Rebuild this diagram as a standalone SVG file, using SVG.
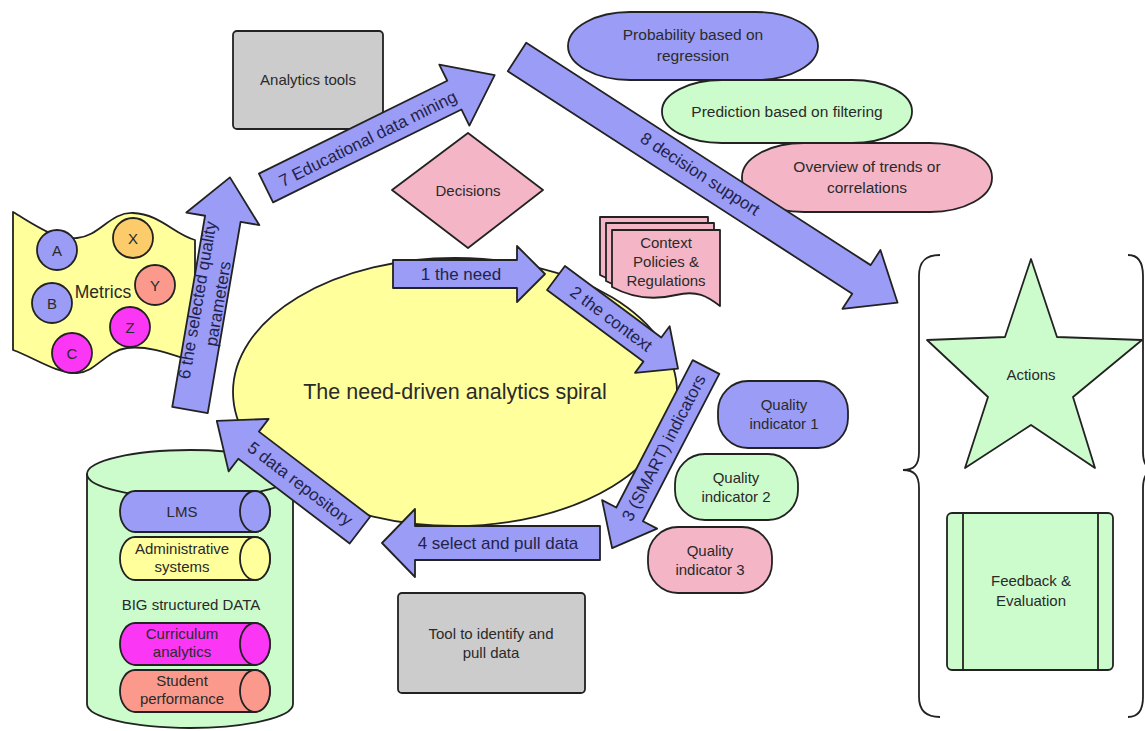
<svg xmlns="http://www.w3.org/2000/svg" width="1145" height="731" viewBox="0 0 1145 731">
<style>
text{font-family:"Liberation Sans",Arial,sans-serif;fill:#2a2a2a;text-anchor:middle;dominant-baseline:central}
.s{stroke:#222;stroke-width:1.8;stroke-linejoin:round}
.blue{fill:#9a9cf6}.yel{fill:#ffff9c}.grn{fill:#ccfccc}.pink{fill:#f4b6c6}.gray{fill:#cccccc}.mag{fill:#fb37f5}.sal{fill:#fb9a8c}.org{fill:#fccc6a}
.t15{font-size:15px}.t16{font-size:15.5px}.t17{font-size:17px;fill:#23234a}
.br{fill:none;stroke:#222;stroke-width:1.8}
</style>
<rect width="1145" height="731" fill="#fff"/>

<g id="spiral">
<ellipse class="s yel" cx="455" cy="392" rx="222" ry="134"/>
<text x="455" y="392" style="font-size:21.5px">The need-driven analytics spiral</text>
</g>

<g id="analytics-tools">
<rect class="s gray" x="233" y="31" width="150" height="98" rx="4"/>
<text class="t15" x="308" y="79">Analytics tools</text>
</g>

<g id="decisions">
<path class="s pink" d="M468,133 L543,190 L468,248 L392,190 Z"/>
<text class="t15" x="468" y="190">Decisions</text>
</g>

<g id="probability">
<rect class="s blue" x="568" y="12" width="250" height="68" rx="62" ry="34"/>
<text class="t16" x="693" y="34">Probability based on</text>
<text class="t16" x="693" y="55">regression</text>
</g>
<g id="prediction">
<rect class="s grn" x="662" y="80" width="250" height="63" rx="60" ry="31"/>
<text class="t16" x="787" y="111">Prediction based on filtering</text>
</g>
<g id="overview">
<rect class="s pink" x="742" y="143" width="250" height="69" rx="62" ry="34"/>
<text class="t16" x="867" y="166">Overview of trends or</text>
<text class="t16" x="867" y="187">correlations</text>
</g>

<g id="context">
<path class="s pink" d="M600,217 H708 V292 C695,284 685,278 664,283 C643,288 622,287 600,275 Z"/>
<path class="s pink" d="M606,223 H714 V298 C701,290 691,284 670,289 C649,294 628,293 606,281 Z"/>
<path class="s pink" d="M612,230 H720 V306 C707,296 697,290 676,295 C655,300 634,299 612,287 Z"/>
<text class="t15" x="666" y="242">Context</text>
<text class="t15" x="666" y="261">Policies &amp;</text>
<text class="t15" x="666" y="280">Regulations</text>
</g>

<g id="qi1">
<rect class="s blue" x="718" y="381" width="130" height="67" rx="30"/>
<text class="t15" x="784" y="404">Quality</text>
<text class="t15" x="784" y="423">indicator 1</text>
</g>
<g id="qi2">
<rect class="s grn" x="675" y="454" width="123" height="66" rx="30"/>
<text class="t15" x="736" y="477">Quality</text>
<text class="t15" x="736" y="496">indicator 2</text>
</g>
<g id="qi3">
<rect class="s pink" x="648" y="527" width="124" height="66" rx="30"/>
<text class="t15" x="710" y="550">Quality</text>
<text class="t15" x="710" y="569">indicator 3</text>
</g>

<g id="tool-pull">
<rect class="s gray" x="398" y="593" width="187" height="100" rx="4"/>
<text class="t15" x="491" y="633">Tool to identify and</text>
<text class="t15" x="491" y="652">pull data</text>
</g>

<g id="metrics">
<path class="s yel" d="M13,212 C35,225 55,240 77,238 C100,236 110,212 133,213 C160,214 175,235 195,240 L195,362 C175,356 150,345 127,348 C105,351 95,373 77,373 C55,373 35,358 13,350 Z"/>
<text x="103" y="292" style="font-size:17.5px">Metrics</text>
<circle class="s blue" cx="57" cy="250" r="20"/><text class="t15" x="57" y="250">A</text>
<circle class="s org" cx="133" cy="238" r="20"/><text class="t15" x="133" y="238">X</text>
<circle class="s sal" cx="155" cy="285" r="20"/><text class="t15" x="155" y="285">Y</text>
<circle class="s blue" cx="52" cy="303" r="20"/><text class="t15" x="52" y="303">B</text>
<circle class="s mag" cx="130" cy="327" r="20"/><text class="t15" x="130" y="327">Z</text>
<circle class="s mag" cx="72" cy="353" r="20"/><text class="t15" x="72" y="353">C</text>
</g>

<g id="database">
<path class="s grn" d="M87,474 V704 A103,24 0 0 0 293,704 V474 Z"/>
<ellipse class="s grn" cx="190" cy="474" rx="103" ry="24"/>
<path class="s blue" d="M135,491 H255 A15,20.5 0 0 1 255,532 H135 A15,20.5 0 0 1 135,491 Z"/>
<ellipse class="s blue" cx="255" cy="511.5" rx="15" ry="20.5"/>
<text class="t15" x="182" y="511">LMS</text>
<path class="s yel" d="M135,537 H255 A15,21.5 0 0 1 255,580 H135 A15,21.5 0 0 1 135,537 Z"/>
<ellipse class="s yel" cx="255" cy="558.5" rx="15" ry="21.5"/>
<text class="t15" x="182" y="548">Administrative</text>
<text class="t15" x="182" y="566">systems</text>
<text class="t15" x="191" y="604">BIG structured DATA</text>
<path class="s mag" d="M135,623 H255 A15,21 0 0 1 255,665 H135 A15,21 0 0 1 135,623 Z"/>
<ellipse class="s mag" cx="255" cy="644" rx="15" ry="21"/>
<text class="t15" x="182" y="633">Curriculum</text>
<text class="t15" x="182" y="651">analytics</text>
<path class="s sal" d="M135,670 H255 A15,21 0 0 1 255,712 H135 A15,21 0 0 1 135,670 Z"/>
<ellipse class="s sal" cx="255" cy="691" rx="15" ry="21"/>
<text class="t15" x="182" y="680">Student</text>
<text class="t15" x="182" y="698">performance</text>
</g>

<g id="actions">
<path class="s grn" d="M1031,259 L1057,337 L1142,340 L1073,397 L1095,468 L1031,425 L965,468 L988,397 L927,340 L1005,337 Z"/>
<text class="t15" x="1031" y="374">Actions</text>
</g>

<g id="feedback">
<rect class="s grn" x="947" y="513" width="166" height="157" rx="5"/>
<line class="s" x1="963" y1="513" x2="963" y2="670"/>
<line class="s" x1="1098" y1="513" x2="1098" y2="670"/>
<text class="t15" x="1031" y="580">Feedback &amp;</text>
<text class="t15" x="1031" y="600">Evaluation</text>
</g>

<g id="braces">
<path class="br" d="M940,255 C925,255 919,262 919,276 V452 C919,465 914,470 903,470 C914,470 919,475 919,488 V697 C919,710 925,717 940,717"/>
<path class="br" d="M1128,255 C1138,255 1143,262 1143,276 V452 C1143,464 1147,470 1156,470 C1147,470 1143,476 1143,488 V697 C1143,710 1138,717 1128,717"/>
</g>

<g id="connectors">
<path class="s blue" transform="translate(393,274)" d="M0,-14 H124 V-28 L152,0 L124,28 V14 H0 Z"/>
<path class="s blue" transform="translate(556,278) rotate(36.6)" d="M0,-15 H120 V-29 L152,0 L120,29 V15 H0 Z"/>
<path class="s blue" transform="translate(706,367) rotate(117.4)" d="M0,-15 H166 V-31 L204,0 L166,31 V15 H0 Z"/>
<path class="s blue" transform="translate(600,543) rotate(180)" d="M0,-17 H185 V-34 L218,0 L185,34 V17 H0 Z"/>
<path class="s blue" transform="translate(360,530) rotate(217.3)" d="M0,-17 H140 V-33 L180,0 L140,33 V17 H0 Z"/>
<path class="s blue" transform="translate(190,410) rotate(-80.26)" d="M0,-18 H194 V-37 L236,0 L194,37 V18 H0 Z"/>
<path class="s blue" transform="translate(266,188) rotate(-26.26)" d="M0,-16 H210 V-34 L255,0 L210,34 V16 H0 Z"/>
<path class="s blue" transform="translate(517,57) rotate(32.85)" d="M0,-17 H410 V-35 L453,0 L410,35 V17 H0 Z"/>

<text class="t17" x="461" y="274">1 the need</text>
<text class="t17" transform="translate(611,319) rotate(36.6)">2 the context</text>
<text class="t17" transform="translate(664,448) rotate(-62.6)">3 (SMART) indicators</text>
<text class="t17" x="498" y="543">4 select and pull data</text>
<text class="t17" transform="translate(300,484) rotate(37.3)">5 data repository</text>
<g transform="translate(208,302) rotate(-80.26)">
<text class="t17" x="0" y="-10.5">6 the selected quality</text>
<text class="t17" x="0" y="10.5">parameters</text>
</g>
<text class="t17" transform="translate(368,139) rotate(-26.26)">7 Educational data mining</text>
<text class="t17" transform="translate(700,174) rotate(32.85)">8 decision support</text>
</g>
</svg>
